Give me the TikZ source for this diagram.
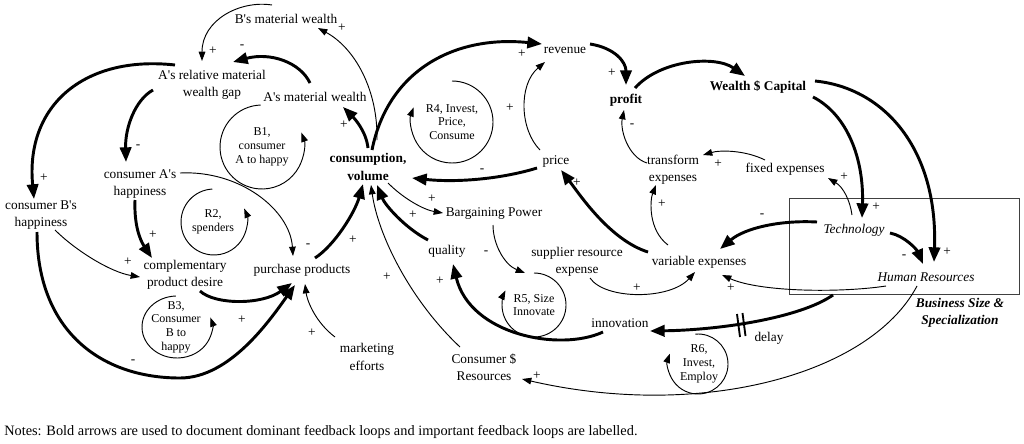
\documentclass[tikz,border=0pt]{standalone}
\usepackage{fontspec}
\setmainfont{Liberation Serif}[Ligatures=TeXOff]
\usetikzlibrary{arrows.meta,calc}
\begin{document}
\begin{tikzpicture}[x=0.75pt,y=-0.75pt,
  v/.style={font=\fontsize{10}{13}\selectfont, align=center, inner sep=0pt},
  vb/.style={v, font=\fontsize{10}{13}\selectfont\bfseries},
  vi/.style={v, font=\fontsize{10}{13}\selectfont\itshape},
  lp/.style={font=\fontsize{9}{10.3}\selectfont, align=center, inner sep=0pt},
  sg/.style={font=\fontsize{10}{12}\selectfont, inner sep=0pt},
  weak/.style={line width=0.7pt, -{Triangle[length=7pt,width=5pt]}},
  strong/.style={line width=2.2pt, -{Triangle[length=11pt,width=8.5pt]}},
  loopc/.style={line width=0.7pt, -{Triangle[length=7pt,width=5pt]}},
]
\useasboundingbox (0,0) rectangle (1024,443);

% ---------- variables ----------
\node[v] (bmw) at (286,19) {B's material wealth};
\node[v] (gap) at (212,85) {A's relative material\\wealth gap};
\node[v] (amw) at (315,97) {A's material wealth};
\node[vb] (cons) at (368,167) {consumption,\\volume};
\node[v] (cah) at (140,184) {consumer A's\\happiness};
\node[v] (cbh) at (41,215) {consumer B's\\happiness};
\node[v] (cpd) at (185,275) {complementary\\product desire};
\node[v] (pp) at (302,270) {purchase products};
\node[v] (mkt) at (367,357) {marketing\\efforts};
\node[v] (rev) at (565,50) {revenue};
\node[vb] (profit) at (626,100) {profit};
\node[vb] (wc) at (758,87) {Wealth \$ Capital};
\node[v] (price) at (556,162) {price};
\node[v] (te) at (673,170) {transform\\expenses};
\node[v] (fe) at (785,169) {fixed expenses};
\node[v] (bp) at (494,214) {Bargaining Power};
\node[v] (qual) at (447,251) {quality};
\node[v] (sre) at (577,262) {supplier resource\\expense};
\node[v] (ve) at (699,262) {variable expenses};
\node[v] (innov) at (620,323) {innovation};
\node[v] (csr) at (484,367) {Consumer \$\\Resources};
\node[vi] (tech) at (854,230) {Technology};
\node[vi] (hr) at (926,277) {Human Resources};
\node[v] (delay) at (769,338) {delay};
\node[v, font=\fontsize{10}{13}\selectfont\bfseries\itshape] (bss) at (960,313) {Business Size \&\\Specialization};
\node[anchor=west, inner sep=0pt, font=\fontsize{10.75}{12}\selectfont] (notes) at (4,432) {Notes: Bold arrows are used to document dominant feedback loops and important feedback loops are labelled.};

% ---------- frame ----------
\draw[line width=0.6pt, black!75] (789,198) rectangle (1019,294);

% ---------- loop labels ----------
\node[lp] (B1) at (262,147) {B1,\\consumer\\A to happy};
\node[lp] (R2) at (213,222) {R2,\\spenders};
\node[lp] (B3) at (176,327) {B3,\\Consumer\\B to\\happy};
\node[lp] (R4) at (452,122) {R4, Invest,\\Price,\\Consume};
\node[lp] (R5) at (534,305) {R5, Size\\Innovate};
\node[lp] (R6) at (699,364) {R6,\\Invest,\\Employ};

\draw[loopc] ($(B1)+(-92:42)$) arc[start angle=-92, end angle=-380, radius=42];
\draw[loopc] ($(R2)+(1,0)+(-93:33)$) arc[start angle=-93, end angle=-384, radius=33];
\draw[loopc] ($(B3)+(1,0)+(-92:35 and 31)$) arc[start angle=-92, end angle=-378, x radius=35, y radius=31];
\draw[loopc] ($(R4)+(-90:41)$) arc[start angle=-90, end angle=201, radius=41];
\draw[loopc] ($(R5)+(-90:32)$) arc[start angle=-90, end angle=207, radius=32];
\draw[loopc] ($(R6)+(-1,0)+(-95:30)$) arc[start angle=-95, end angle=200, radius=30];

% ---------- connectors ----------
\draw[weak] ($(bmw)+(-14,-14)$) .. controls +(-32,-5) and +(0,-41) .. ($(gap)+(-10,-24)$);
\draw[strong] ($(amw)+(-5,-14)$) .. controls +(-10,-21) and +(37,-10) .. ($(gap)+(21,-23)$);
\draw[strong] ($(cons)+(0,-19)$) .. controls +(-2,-18) and +(10,10) .. ($(amw)+(28,10)$);
\draw[weak] ($(cons)+(9,-27)$) .. controls +(1,-50) and +(37,20) .. ($(bmw)+(32,9)$);
\draw[strong] ($(gap)+(-59,5)$) .. controls +(-18,10) and +(-1,-34) .. ($(cah)+(-14,-22)$);
\draw[strong] ($(gap)+(-37,-20)$) .. controls +(-90,-10) and +(-9,-94) .. ($(cbh)+(-7,-16)$);
\draw[strong] ($(cah)+(-5,16)$) .. controls +(-1,25) and +(-12,-18) .. ($(cpd)+(-33,-17)$);
\draw[weak] ($(cah)+(40,-11)$) .. controls +(60,-3) and +(-3,-46) .. ($(pp)+(-9,-14)$);
\draw[weak] ($(cbh)+(14,15)$) .. controls +(20,20) and +(-30,-5) .. ($(cpd)+(-45,2)$);
\draw[strong] ($(cbh)+(-4,17)$) .. controls +(0,98) and +(-80,0) .. ($(cbh)+(139,163)$) .. controls +(50,0) and +(-25,35) .. ($(pp)+(-7,15)$);
\draw[strong] ($(cpd)+(15,16)$) .. controls +(15,14) and +(-30,22) .. ($(pp)+(-10,13)$);
\draw[weak] ($(mkt)+(-32,-20)$) .. controls +(-20,-15) and +(2,16) .. ($(pp)+(3,14)$);
\draw[strong] ($(pp)+(13,-12)$) .. controls +(20,-13) and +(-8,28) .. ($(cons)+(-5,17)$);
\draw[weak] ($(csr)+(-24,-20)$) .. controls +(-50,-47) and +(7,50) .. ($(cons)+(3,18)$);
\draw[strong] ($(qual)+(-19,-11)$) .. controls +(-23,-12) and +(8,20) .. ($(cons)+(9,18)$);
\draw[weak] ($(cons)+(20,16)$) .. controls +(17,17) and +(-18,-3) .. ($(bp)+(-51,-1)$);
\draw[strong] ($(cons)+(4,-17)$) .. controls +(16,-80) and +(-87,-9) .. ($(rev)+(-23,-6)$);
\draw[strong] ($(price)+(-19,6)$) .. controls +(-32,10) and +(48,5) .. ($(cons)+(44,11)$);
\draw[weak] ($(price)+(-16,-12)$) .. controls +(-20,-20) and +(-27,23) .. ($(rev)+(-20,12)$);
\draw[strong] ($(rev)+(25,-6)$) .. controls +(25,4) and +(0,-23) .. ($(profit)+(0,-15)$);
\draw[strong] ($(profit)+(9,-12)$) .. controls +(25,-28) and +(-30,-21) .. ($(wc)+(-13,-11)$);
\draw[weak] ($(te)+(-26,-7)$) .. controls +(-19,-6) and +(-4,20) .. ($(profit)+(-2,10)$);
\draw[weak] ($(fe)+(-20,-9)$) .. controls +(-20,-10) and +(17,-5) .. ($(te)+(30,-15)$);
\draw[weak] ($(ve)+(-31,-17)$) .. controls +(-20,-15) and +(-6,15) .. ($(te)+(-17,15)$);
\draw[strong] ($(ve)+(-51,-10)$) .. controls +(-38,-12) and +(19,25) .. ($(price)+(5,8)$);
\draw[weak] ($(sre)+(13,16)$) .. controls +(15,22) and +(-25,28) .. ($(ve)+(-4,10)$);
\draw[weak] ($(bp)+(-1,11)$) .. controls +(0,20) and +(-20,-8) .. ($(sre)+(-52,11)$);
\draw[strong] ($(innov)+(-17,9)$) .. controls +(-43,20) and +(17,71) .. ($(qual)+(6,13)$);
\draw[strong] ($(hr)+(-93,18)$) .. controls +(-33,23) and +(70,-1) .. ($(innov)+(30,8)$);
\draw[weak] ($(hr)+(-40,9)$) .. controls +(-46,7) and +(38,17) .. ($(ve)+(23,13)$);
\draw[weak] ($(hr)+(-9,9)$) .. controls +(-47,89) and +(178,41) .. ($(csr)+(38,12)$);
\draw[strong] ($(tech)+(-37,-8)$) .. controls +(-37,-2) and +(25,-21) .. ($(ve)+(21,-13)$);
\draw[strong] ($(tech)+(36,3)$) .. controls +(15,3) and +(-6,-14) .. ($(hr)+(-3,-13)$);
\draw[weak] ($(tech)+(-2,-15)$) .. controls +(-2,-15) and +(15,9) .. ($(fe)+(43,9)$);
\draw[strong] ($(wc)+(55,10)$) .. controls +(35,18) and +(2,-58) .. ($(tech)+(8,-12)$);
\draw[strong] ($(wc)+(57,-6)$) .. controls +(70,7) and +(4,-112) .. ($(hr)+(8,-15)$);

% delay mark
\draw[line width=1.4pt] (737,314) -- (740,337);
\draw[line width=1.4pt] (742.5,313) -- (745.5,336);

% ---------- polarity signs ----------
\node[sg] (s1) at (213,51) {+};
\node[sg] (s2) at (242,47) {-};
\node[sg] (s3) at (344,125) {+};
\node[sg] (s4) at (342,28) {+};
\node[sg] (s5) at (138,147) {-};
\node[sg] (s6) at (44,178) {+};
\node[sg] (s7) at (153,235) {+};
\node[sg] (s8) at (308,246) {-};
\node[sg] (s9) at (128,262) {+};
\node[sg] (s10) at (133,362) {-};
\node[sg] (s11) at (242,320) {+};
\node[sg] (s12) at (312,333) {+};
\node[sg] (s13) at (353,240) {+};
\node[sg] (s14) at (387,277) {+};
\node[sg] (s15) at (413,215) {+};
\node[sg] (s16) at (432,199) {+};
\node[sg] (s17) at (522,54) {+};
\node[sg] (s18) at (482,171) {-};
\node[sg] (s19) at (510,108) {+};
\node[sg] (s20) at (612,73) {+};
\node[sg] (s22) at (632,126) {-};
\node[sg] (s23) at (718,164) {+};
\node[sg] (s24) at (662,204) {+};
\node[sg] (s25) at (577,183) {+};
\node[sg] (s26) at (637,288) {+};
\node[sg] (s27) at (486,253) {-};
\node[sg] (s28) at (440,281) {+};
\node[sg] (s30) at (731,288) {+};
\node[sg] (s31) at (537,376) {+};
\node[sg] (s32) at (762,216) {-};
\node[sg] (s33) at (904,257) {-};
\node[sg] (s34) at (844,177) {+};
\node[sg] (s35) at (876,207) {+};
\node[sg] (s36) at (947,252) {+};
\end{tikzpicture}
\end{document}
